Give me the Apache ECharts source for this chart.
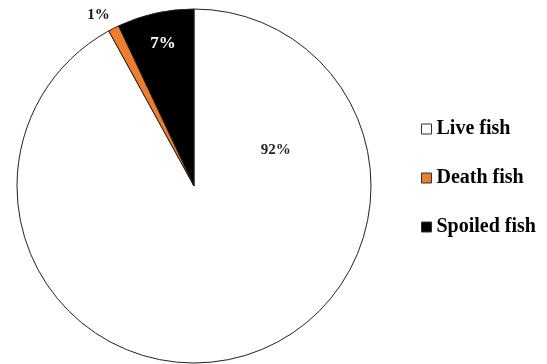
<!DOCTYPE html>
<html>
<head>
<meta charset="utf-8">
<script src="https://cdn.jsdelivr.net/npm/echarts@6/dist/echarts.min.js"></script>
<style>
  html, body { margin: 0; padding: 0; background: #fff; }
  #main { width: 547px; height: 364px; }
</style>
</head>
<body>
<div id="main"></div>
<script>
let categories = ["Live fish", "Death fish", "Spoiled fish"];
let values = [92, 1, 7];
let colors = ["#FFFFFF", "#ED7D31", "#000000"];

// label tweaks per slice: colour, size, offset from default spot
let labelStyles = [
  { position: "inside", color: "#222", fontSize: 15, offset: [59, -125] },
  { position: "outside", color: "#111", fontSize: 15, offset: [38, 0] },
  { position: "inside", color: "#fff", fontSize: 17, offset: [-11, -53] }
];

let pieData = categories.map(function (name, i) {
  return {
    name: name,
    value: values[i],
    itemStyle: { color: colors[i] },
    label: labelStyles[i]
  };
});

let option = {
  animation: false,
  backgroundColor: "#fff",
  legend: {
    orient: "vertical",
    left: 416,
    top: 114,
    itemGap: 29,
    itemWidth: 10,
    itemHeight: 10,
    icon: "rect",
    itemStyle: { borderColor: "#333", borderWidth: 1 },
    textStyle: {
      fontFamily: "Liberation Serif",
      fontWeight: "bold",
      fontSize: 20,
      color: "#000"
    },
    data: categories
  },
  series: [
    {
      type: "pie",
      center: [194, 186],
      radius: 177,
      startAngle: 90,
      clockwise: true,
      avoidLabelOverlap: false,
      itemStyle: { borderColor: "#222", borderWidth: 1 },
      label: {
        show: true,
        formatter: "{c}%",
        fontFamily: "Liberation Serif",
        fontWeight: "bold"
      },
      labelLine: { show: false },
      emphasis: { disabled: true },
      data: pieData
    }
  ]
};

let chart = echarts.init(document.getElementById("main"));
chart.setOption(option);
</script>
</body>
</html>
